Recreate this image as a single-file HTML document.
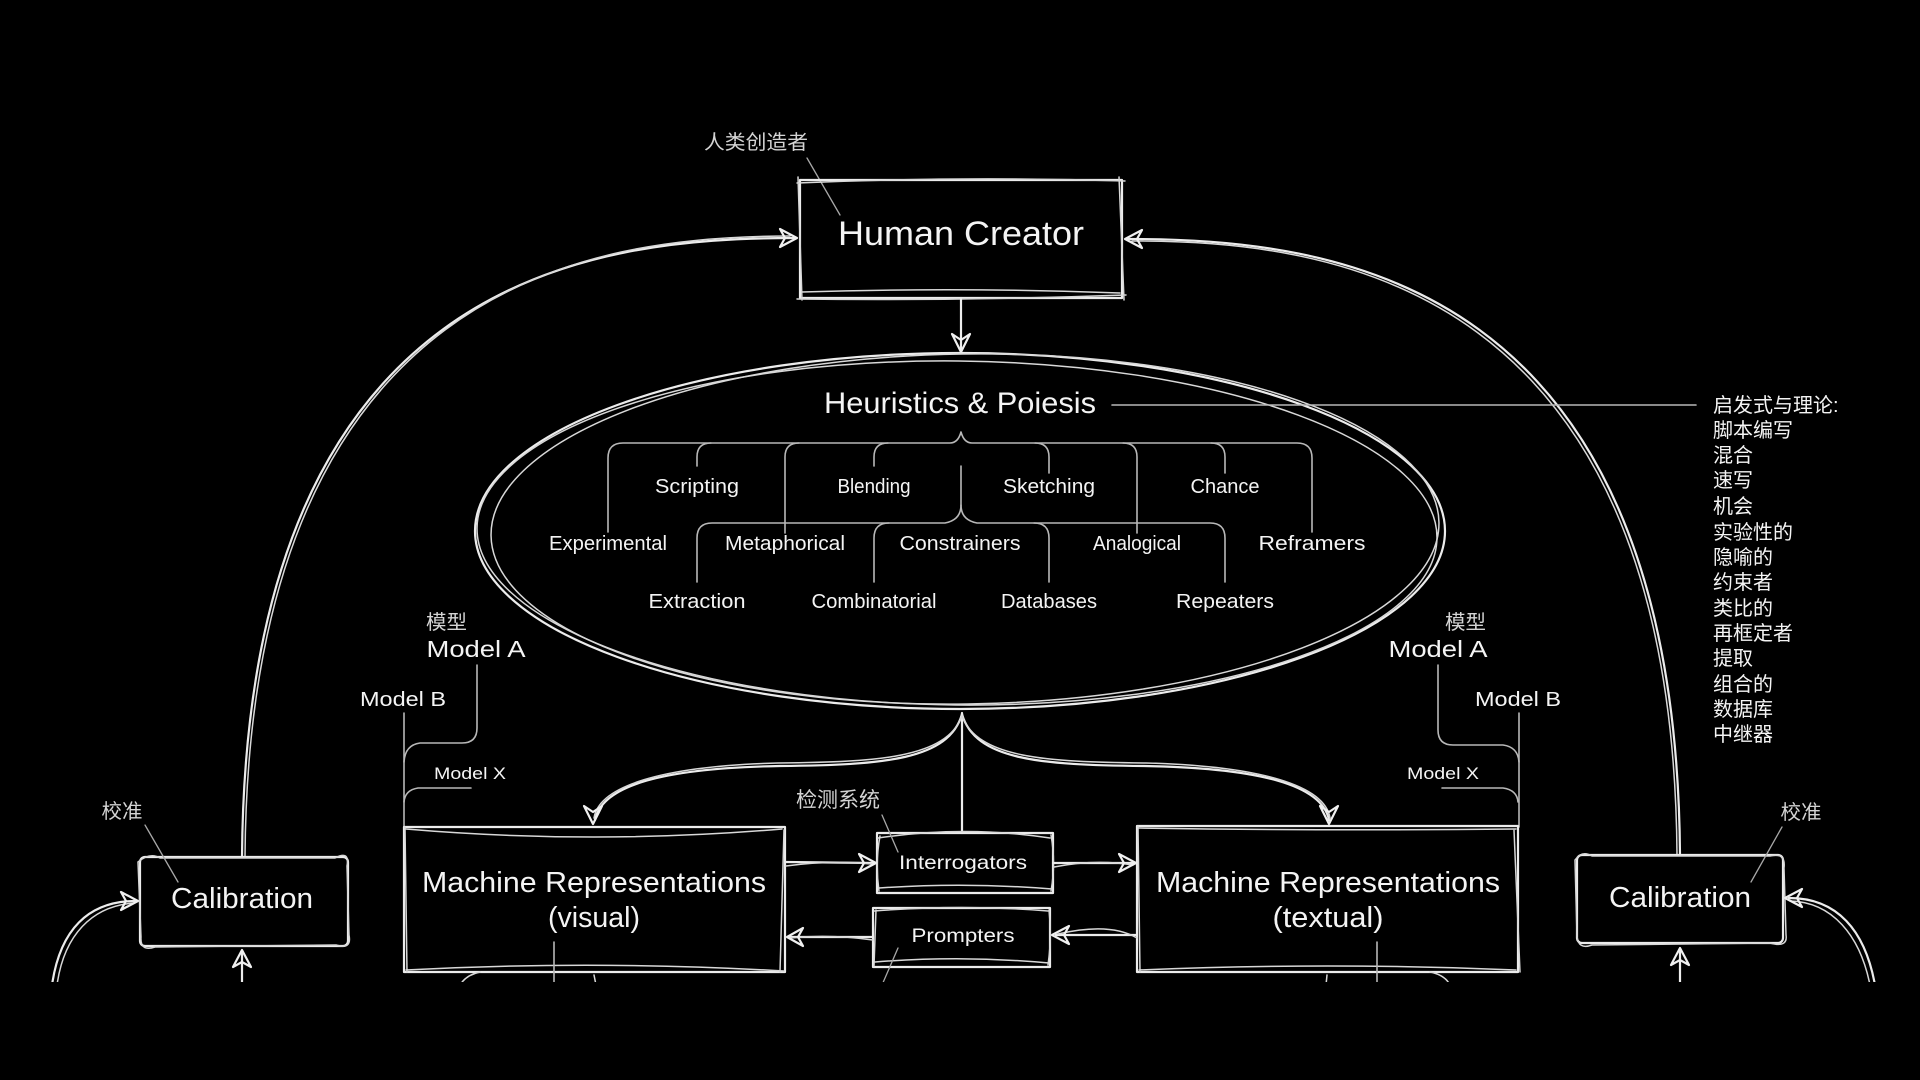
<!DOCTYPE html>
<html>
<head>
<meta charset="utf-8">
<style>
  html,body{margin:0;padding:0;background:#000;}
  body{width:1920px;height:1080px;overflow:hidden;}
  svg{display:block;}
  .s{fill:none;stroke:#ececec;stroke-width:2.2;stroke-linecap:round;stroke-linejoin:round;}
  .s2{fill:none;stroke:#d8d8d8;stroke-width:1.5;stroke-linecap:round;stroke-linejoin:round;}
  .t{fill:none;stroke:#b8b8b8;stroke-width:1.6;stroke-linecap:round;stroke-linejoin:round;}
  .l{fill:none;stroke:#a8a8a8;stroke-width:1.3;stroke-linecap:round;}
  .ah{fill:none;stroke:#f0f0f0;stroke-width:2.2;stroke-linejoin:round;}
  text{font-family:"Liberation Sans","Noto Sans CJK SC",sans-serif;fill:#f4f4f4;}
  .lab{fill:#e6e6e6;font-size:20px;}
  .cn{fill:#d4d4d4;font-family:"Liberation Sans","Noto Sans CJK SC",sans-serif;}
</style>
</head>
<body>
<svg width="1920" height="1080" viewBox="0 0 1920 1080" xmlns="http://www.w3.org/2000/svg">
<defs>
  <clipPath id="c"><rect x="0" y="0" width="1920" height="982"/></clipPath>
</defs>
<rect width="1920" height="1080" fill="#000"/>
<g clip-path="url(#c)">

<!-- 人类创造者 label + leader -->
<text class="cn" x="756" y="149" font-size="20" text-anchor="middle" textLength="104" lengthAdjust="spacingAndGlyphs">人类创造者</text>
<line class="l" x1="807" y1="158" x2="840" y2="215"/>

<!-- Human Creator box -->
<rect class="s" x="800" y="180" width="322" height="118"/>
<path class="s2" d="M797,183 Q960,176 1125,181 M1119,177 L1124,300 M1126,295 Q960,301 797,299 M802,300 L798,177 M802,292 Q960,287 1120,293"/>
<text x="961" y="245" font-size="34" text-anchor="middle" textLength="246" lengthAdjust="spacingAndGlyphs">Human Creator</text>

<!-- arrow down to ellipse -->
<line class="s" x1="961" y1="298" x2="961" y2="350"/>
<polygon class="ah" points="952,334 961,352 970,334 961,340"/>

<!-- Outer curved arrows -->
<path class="s" d="M242,857 C246,275 590,238 795,238"/>
<path class="s2" d="M245,857 C249,280 592,236 790,236"/>
<polygon class="ah" points="780,229 797,238 780,247 785,238"/>

<path class="s" d="M1680,855 C1676,275 1332,239 1127,239"/>
<path class="s2" d="M1677,855 C1673,280 1330,241 1132,241"/>
<polygon class="ah" points="1142,230 1125,239 1142,248 1137,239"/>

<!-- Ellipse -->
<ellipse class="s" cx="960" cy="531" rx="485" ry="178"/>
<ellipse class="s2" cx="965" cy="529" rx="474" ry="175" transform="rotate(-0.8 965 529)"/>
<ellipse class="s2" cx="957" cy="533" rx="480" ry="172" transform="rotate(0.6 957 533)"/>

<!-- Heuristics & Poiesis -->
<text x="960" y="413" font-size="30" text-anchor="middle" textLength="272" lengthAdjust="spacingAndGlyphs">Heuristics &amp; Poiesis</text>
<line class="t" x1="1112" y1="405" x2="1696" y2="405"/>

<!-- Right Chinese list -->
<g class="cn" font-size="20">
<text x="1713" y="412">启发式与理论:</text>
<text x="1713" y="437">脚本编写</text>
<text x="1713" y="462">混合</text>
<text x="1713" y="487">速写</text>
<text x="1713" y="513">机会</text>
<text x="1713" y="539">实验性的</text>
<text x="1713" y="564">隐喻的</text>
<text x="1713" y="589">约束者</text>
<text x="1713" y="615">类比的</text>
<text x="1713" y="640">再框定者</text>
<text x="1713" y="665">提取</text>
<text x="1713" y="691">组合的</text>
<text x="1713" y="716">数据库</text>
<text x="1713" y="741">中继器</text>
</g>

<!-- Tree: top brace -->
<path class="t" d="M608,532 L608,458 Q608,443 623,443 L950,443 Q958,443 961,432 Q964,443 972,443 L1297,443 Q1312,443 1312,458 L1312,532"/>
<path class="t" d="M697,466 L697,457 Q697,443 711,443"/>
<path class="t" d="M785,533 L785,457 Q785,443 799,443"/>
<path class="t" d="M874,466 L874,457 Q874,443 888,443"/>
<path class="t" d="M1049,473 L1049,457 Q1049,443 1035,443"/>
<path class="t" d="M1137,533 L1137,457 Q1137,443 1123,443"/>
<path class="t" d="M1225,473 L1225,457 Q1225,443 1211,443"/>
<!-- second brace -->
<path class="t" d="M961,466 L961,505 Q961,520 945,523 L712,523 Q697,523 697,538 L697,582"/>
<path class="t" d="M961,505 Q961,520 977,523 L1210,523 Q1225,523 1225,538 L1225,582"/>
<path class="t" d="M874,582 L874,538 Q874,523 889,523"/>
<path class="t" d="M1049,582 L1049,538 Q1049,523 1034,523"/>

<!-- Tree labels -->
<g class="lab" text-anchor="middle">
<text x="697" y="493" textLength="84" lengthAdjust="spacingAndGlyphs">Scripting</text>
<text x="874" y="493" textLength="73" lengthAdjust="spacingAndGlyphs">Blending</text>
<text x="1049" y="493" textLength="92" lengthAdjust="spacingAndGlyphs">Sketching</text>
<text x="1225" y="493" textLength="69" lengthAdjust="spacingAndGlyphs">Chance</text>
<text x="608" y="550" textLength="118" lengthAdjust="spacingAndGlyphs">Experimental</text>
<text x="785" y="550" textLength="120" lengthAdjust="spacingAndGlyphs">Metaphorical</text>
<text x="960" y="550" textLength="121" lengthAdjust="spacingAndGlyphs">Constrainers</text>
<text x="1137" y="550" textLength="88" lengthAdjust="spacingAndGlyphs">Analogical</text>
<text x="1312" y="550" textLength="107" lengthAdjust="spacingAndGlyphs">Reframers</text>
<text x="697" y="608" textLength="97" lengthAdjust="spacingAndGlyphs">Extraction</text>
<text x="874" y="608" textLength="125" lengthAdjust="spacingAndGlyphs">Combinatorial</text>
<text x="1049" y="608" textLength="96" lengthAdjust="spacingAndGlyphs">Databases</text>
<text x="1225" y="608" textLength="98" lengthAdjust="spacingAndGlyphs">Repeaters</text>
</g>

<!-- Ellipse bottom split -->
<line class="s" x1="962" y1="713" x2="962" y2="833"/>
<path class="s" d="M962,714 C975,760 1040,765 1144,766 C1260,768 1322,785 1329,820"/>
<path class="s2" d="M962,716 C978,758 1045,762 1146,763 C1262,766 1325,786 1330,818"/>
<polygon class="ah" points="1320,806 1329,824 1338,806 1329,812"/>
<path class="s" d="M962,714 C949,760 884,765 780,766 C664,768 602,785 595,820"/>
<path class="s2" d="M962,716 C946,758 879,762 778,763 C662,766 599,786 594,818"/>
<polygon class="ah" points="584,806 593,824 602,806 593,812"/>

<!-- Left models -->
<text class="cn" x="426" y="629" font-size="20" textLength="41" lengthAdjust="spacingAndGlyphs">模型</text>
<text x="476" y="657" font-size="23" text-anchor="middle" textLength="99" lengthAdjust="spacingAndGlyphs">Model A</text>
<path class="t" d="M477,665 L477,728 Q477,743 462,743 L420,743 Q405,745 404,762"/>
<text x="403" y="706" font-size="20" text-anchor="middle" textLength="86" lengthAdjust="spacingAndGlyphs">Model B</text>
<line class="t" x1="404" y1="713" x2="404" y2="827"/>
<text x="470" y="779" font-size="17" text-anchor="middle" textLength="72" lengthAdjust="spacingAndGlyphs">Model X</text>
<path class="t" d="M471,788 L418,788 Q405,790 404,802"/>

<!-- Right models -->
<text class="cn" x="1445" y="629" font-size="20" textLength="41" lengthAdjust="spacingAndGlyphs">模型</text>
<text x="1438" y="657" font-size="23" text-anchor="middle" textLength="99" lengthAdjust="spacingAndGlyphs">Model A</text>
<path class="t" d="M1438,665 L1438,730 Q1438,745 1453,745 L1503,745 Q1518,747 1519,762"/>
<text x="1518" y="706" font-size="20" text-anchor="middle" textLength="86" lengthAdjust="spacingAndGlyphs">Model B</text>
<line class="t" x1="1519" y1="713" x2="1519" y2="827"/>
<text x="1443" y="779" font-size="17" text-anchor="middle" textLength="72" lengthAdjust="spacingAndGlyphs">Model X</text>
<path class="t" d="M1442,788 L1503,788 Q1517,790 1518,802"/>

<!-- Machine Representations (visual) -->
<rect class="s" x="404" y="827" width="381" height="145"/>
<path class="s2" d="M406,829 Q594,845 782,829 M784,830 L780,972 M406,970 Q594,960 784,971 M407,972 L405,827"/>
<text x="594" y="892" font-size="29" text-anchor="middle" textLength="344" lengthAdjust="spacingAndGlyphs">Machine Representations</text>
<text x="594" y="927" font-size="29" text-anchor="middle" textLength="92" lengthAdjust="spacingAndGlyphs">(visual)</text>

<!-- Machine Representations (textual) -->
<rect class="s" x="1137" y="826" width="381" height="146"/>
<path class="s2" d="M1139,828 Q1328,831 1516,829 M1514,830 L1520,972 M1139,970 Q1328,962 1516,970 M1140,972 L1138,826"/>
<text x="1328" y="892" font-size="29" text-anchor="middle" textLength="344" lengthAdjust="spacingAndGlyphs">Machine Representations</text>
<text x="1328" y="927" font-size="29" text-anchor="middle" textLength="111" lengthAdjust="spacingAndGlyphs">(textual)</text>

<!-- Interrogators -->
<rect class="s" x="877" y="833" width="176" height="60"/>
<path class="s2" d="M878,838 Q965,825 1050,838 M1051,835 Q1056,863 1051,891 M879,888 Q965,882 1052,889 M880,836 Q875,863 879,891"/>
<text x="963" y="869" font-size="19" text-anchor="middle" textLength="128" lengthAdjust="spacingAndGlyphs">Interrogators</text>

<!-- Prompters -->
<rect class="s" x="873" y="908" width="177" height="59"/>
<path class="s2" d="M874,911 Q962,904 1048,911 M1049,910 Q1052,937 1048,965 M875,962 Q962,955 1049,963 M876,910 L874,966"/>
<text x="963" y="942" font-size="19" text-anchor="middle" textLength="103" lengthAdjust="spacingAndGlyphs">Prompters</text>

<!-- 检测系统 -->
<text class="cn" x="838" y="807" font-size="21" text-anchor="middle" textLength="84" lengthAdjust="spacingAndGlyphs">检测系统</text>
<line class="l" x1="882" y1="815" x2="898" y2="852"/>
<line class="l" x1="898" y1="948" x2="882" y2="985"/>

<!-- arrows between boxes -->
<path class="s" d="M785,862 L873,863"/>
<path class="s2" d="M786,866 Q830,860 872,864"/>
<polygon class="ah" points="859,854 876,863 859,872 864,863"/>
<path class="s" d="M1053,863 L1133,863"/>
<path class="s2" d="M1054,867 Q1095,859 1133,865"/>
<polygon class="ah" points="1119,854 1136,863 1119,872 1124,863"/>
<path class="s" d="M1137,935 L1056,935"/>
<path class="s2" d="M1137,938 Q1110,922 1058,934"/>
<polygon class="ah" points="1069,926 1052,935 1069,944 1064,935"/>
<path class="s" d="M873,937 L790,937"/>
<path class="s2" d="M873,940 Q830,934 790,938"/>
<polygon class="ah" points="803,928 787,937 803,946 798,937"/>

<!-- Left Calibration -->
<rect class="s" x="140" y="857" width="208" height="89" rx="5"/>
<path class="s2" d="M138,862 Q150,852 160,858 L335,858 Q350,850 347,866 L349,935 Q352,950 336,945 L155,947 Q140,952 141,937 L138,862"/>
<text x="242" y="908" font-size="29" text-anchor="middle" textLength="142" lengthAdjust="spacingAndGlyphs">Calibration</text>
<text class="cn" x="122" y="818" font-size="20" text-anchor="middle" textLength="41" lengthAdjust="spacingAndGlyphs">校准</text>
<line class="l" x1="145" y1="825" x2="178" y2="882"/>
<path class="s" d="M52,985 C60,930 88,901 136,901"/>
<path class="s2" d="M57,985 C64,935 92,906 134,903"/>
<polygon class="ah" points="121,892 138,901 121,910 126,901"/>
<line class="s" x1="242" y1="985" x2="242" y2="952"/>
<polygon class="ah" points="233,967 242,950 251,967 242,962"/>

<!-- Right Calibration -->
<rect class="s" x="1577" y="855" width="206" height="88" rx="5"/>
<path class="s2" d="M1575,860 Q1582,850 1592,856 L1770,856 Q1786,852 1784,868 L1786,935 Q1788,948 1770,943 L1592,945 Q1578,950 1577,936 L1575,860"/>
<text x="1680" y="907" font-size="29" text-anchor="middle" textLength="142" lengthAdjust="spacingAndGlyphs">Calibration</text>
<text class="cn" x="1801" y="819" font-size="20" text-anchor="middle" textLength="41" lengthAdjust="spacingAndGlyphs">校准</text>
<line class="l" x1="1782" y1="827" x2="1751" y2="882"/>
<path class="s" d="M1875,985 C1865,930 1837,898 1789,898"/>
<path class="s2" d="M1870,985 C1860,935 1832,902 1790,901"/>
<polygon class="ah" points="1802,889 1785,898 1802,907 1797,898"/>
<line class="s" x1="1680" y1="985" x2="1680" y2="950"/>
<polygon class="ah" points="1671,965 1680,948 1689,965 1680,960"/>

<!-- stubs continuing below -->
<line class="t" x1="554" y1="942" x2="554" y2="985"/>
<line class="t" x1="1377" y1="942" x2="1377" y2="985"/>
<path class="s2" d="M460,985 Q466,975 480,972"/>
<path class="s2" d="M594,975 L596,985"/>
<path class="s2" d="M1327,975 L1326,985"/>
<path class="s2" d="M1430,972 Q1445,975 1450,985"/>

</g>
</svg>
</body>
</html>
